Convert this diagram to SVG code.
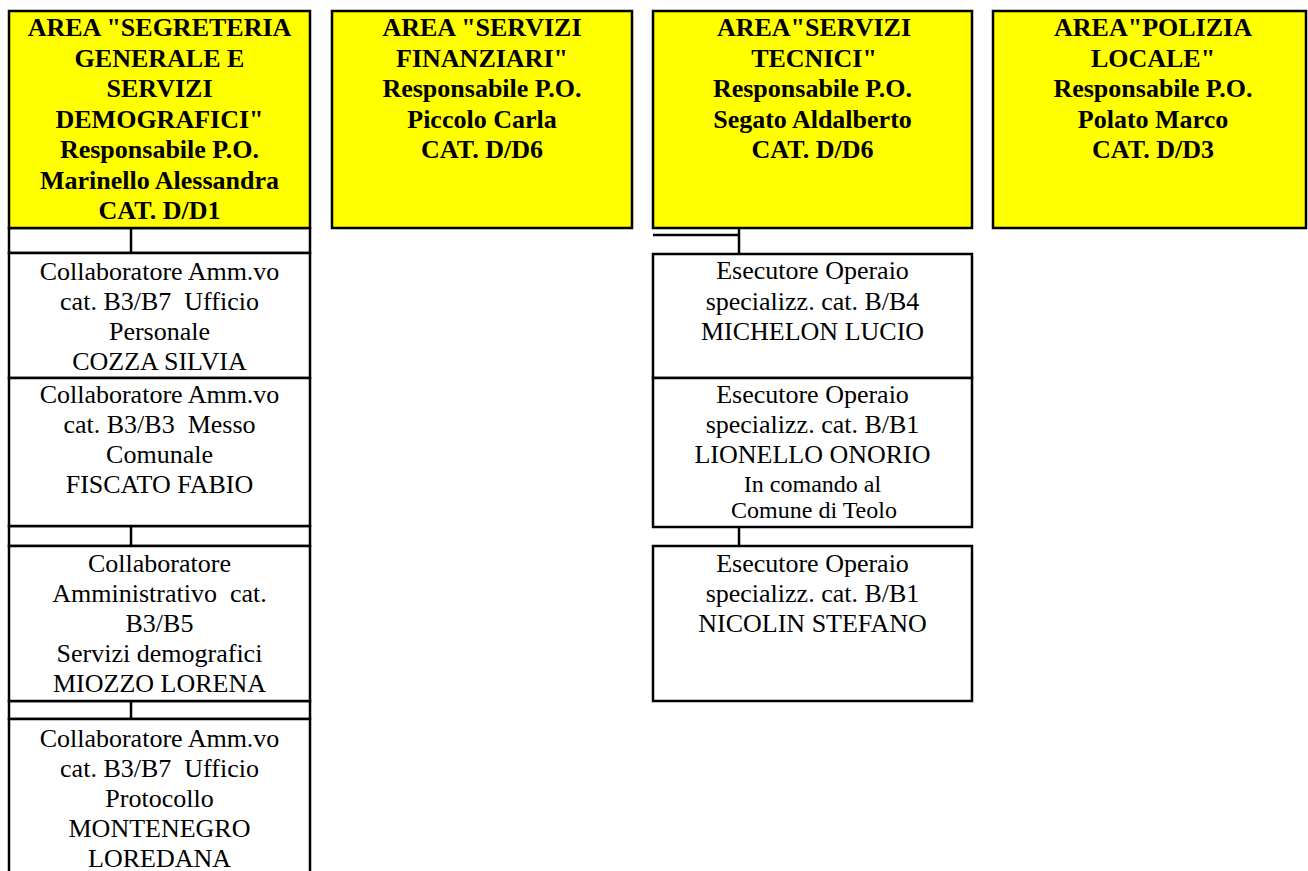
<svg xmlns="http://www.w3.org/2000/svg" width="1308" height="871" viewBox="0 0 1308 871">
<style>
.area{fill:#ffff00;stroke:#000;stroke-width:2.5}
.box{fill:#fff;stroke:#000;stroke-width:2.5}
.ln{fill:none;stroke:#000;stroke-width:2.5}
text{white-space:pre}
.h{font-family:"Liberation Serif","Times New Roman",serif;font-weight:bold;font-size:26px;text-anchor:middle;fill:#000}
.t{font-family:"Liberation Serif","Times New Roman",serif;font-size:26px;text-anchor:middle;fill:#000}
.s{font-family:"Liberation Serif","Times New Roman",serif;font-size:24px;text-anchor:middle;fill:#000}
</style>
<rect width="1308" height="871" fill="#fff"/>
<g id="connectors">
<rect class="ln" x="9" y="228" width="301" height="25"/>
<line class="ln" x1="131" y1="228" x2="131" y2="253"/>
<rect class="ln" x="9" y="526" width="301" height="20"/>
<line class="ln" x1="131" y1="526" x2="131" y2="546"/>
<rect class="ln" x="9" y="701" width="301" height="18"/>
<line class="ln" x1="131" y1="701" x2="131" y2="719"/>
<line class="ln" x1="653" y1="235" x2="739" y2="235"/>
<line class="ln" x1="739" y1="228" x2="739" y2="254"/>
<line class="ln" x1="739" y1="527" x2="739" y2="546"/>
</g>
<g id="area-segreteria">
<rect class="area" x="9" y="11" width="301" height="217"/>
<text class="h" x="159.5" y="36">AREA "SEGRETERIA</text>
<text class="h" x="159.5" y="66.5">GENERALE E</text>
<text class="h" x="159.5" y="97">SERVIZI</text>
<text class="h" x="159.5" y="127.5">DEMOGRAFICI"</text>
<text class="h" x="159.5" y="158">Responsabile P.O.</text>
<text class="h" x="159.5" y="188.5">Marinello Alessandra</text>
<text class="h" x="159.5" y="219">CAT. D/D1</text>
</g>
<g id="area-finanziari">
<rect class="area" x="332" y="11" width="300" height="217"/>
<text class="h" x="482" y="36">AREA "SERVIZI</text>
<text class="h" x="482" y="66.5">FINANZIARI"</text>
<text class="h" x="482" y="97">Responsabile P.O.</text>
<text class="h" x="482" y="127.5">Piccolo Carla</text>
<text class="h" x="482" y="158">CAT. D/D6</text>
</g>
<g id="area-tecnici">
<rect class="area" x="653" y="11" width="319" height="217"/>
<text class="h" x="814" y="36">AREA"SERVIZI</text>
<text class="h" x="814" y="66.5">TECNICI"</text>
<text class="h" x="812.5" y="97">Responsabile P.O.</text>
<text class="h" x="812.5" y="127.5">Segato Aldalberto</text>
<text class="h" x="812.5" y="158">CAT. D/D6</text>
</g>
<g id="area-polizia">
<rect class="area" x="993" y="11" width="313" height="217"/>
<text class="h" x="1153" y="36">AREA"POLIZIA</text>
<text class="h" x="1153" y="66.5">LOCALE"</text>
<text class="h" x="1153" y="97">Responsabile P.O.</text>
<text class="h" x="1153" y="127.5">Polato Marco</text>
<text class="h" x="1153" y="158">CAT. D/D3</text>
</g>
<g id="cozza">
<rect class="box" x="9" y="253" width="301" height="125"/>
<text class="t" x="159.5" y="279.5">Collaboratore Amm.vo</text>
<text class="t" x="159.5" y="309.5">cat. B3/B7  Ufficio</text>
<text class="t" x="159.5" y="339.5">Personale</text>
<text class="t" x="159.5" y="369.5">COZZA SILVIA</text>
</g>
<g id="fiscato">
<rect class="box" x="9" y="378" width="301" height="148"/>
<text class="t" x="159.5" y="403">Collaboratore Amm.vo</text>
<text class="t" x="159.5" y="433">cat. B3/B3  Messo</text>
<text class="t" x="159.5" y="463">Comunale</text>
<text class="t" x="159.5" y="493">FISCATO FABIO</text>
</g>
<g id="miozzo">
<rect class="box" x="9" y="546" width="301" height="155"/>
<text class="t" x="159.5" y="572">Collaboratore</text>
<text class="t" x="159.5" y="602">Amministrativo  cat.</text>
<text class="t" x="159.5" y="632">B3/B5</text>
<text class="t" x="159.5" y="662">Servizi demografici</text>
<text class="t" x="159.5" y="692">MIOZZO LORENA</text>
</g>
<g id="montenegro">
<rect class="box" x="9" y="719" width="301" height="170"/>
<text class="t" x="159.5" y="747">Collaboratore Amm.vo</text>
<text class="t" x="159.5" y="777">cat. B3/B7  Ufficio</text>
<text class="t" x="159.5" y="807">Protocollo</text>
<text class="t" x="159.5" y="837">MONTENEGRO</text>
<text class="t" x="159.5" y="867">LOREDANA</text>
</g>
<g id="michelon">
<rect class="box" x="653" y="254" width="319" height="124"/>
<text class="t" x="812.5" y="279">Esecutore Operaio</text>
<text class="t" x="812.5" y="309.5">specializz. cat. B/B4</text>
<text class="t" x="812.5" y="340">MICHELON LUCIO</text>
</g>
<g id="lionello">
<rect class="box" x="653" y="378" width="319" height="149"/>
<text class="t" x="812.5" y="403">Esecutore Operaio</text>
<text class="t" x="812.5" y="433">specializz. cat. B/B1</text>
<text class="t" x="812.5" y="463">LIONELLO ONORIO</text>
<text class="s" x="812.5" y="492">In comando al</text>
<text class="s" x="814" y="518">Comune di Teolo</text>
</g>
<g id="nicolin">
<rect class="box" x="653" y="546" width="319" height="155"/>
<text class="t" x="812.5" y="571.5">Esecutore Operaio</text>
<text class="t" x="812.5" y="601.5">specializz. cat. B/B1</text>
<text class="t" x="812.5" y="631.5">NICOLIN STEFANO</text>
</g>
</svg>
